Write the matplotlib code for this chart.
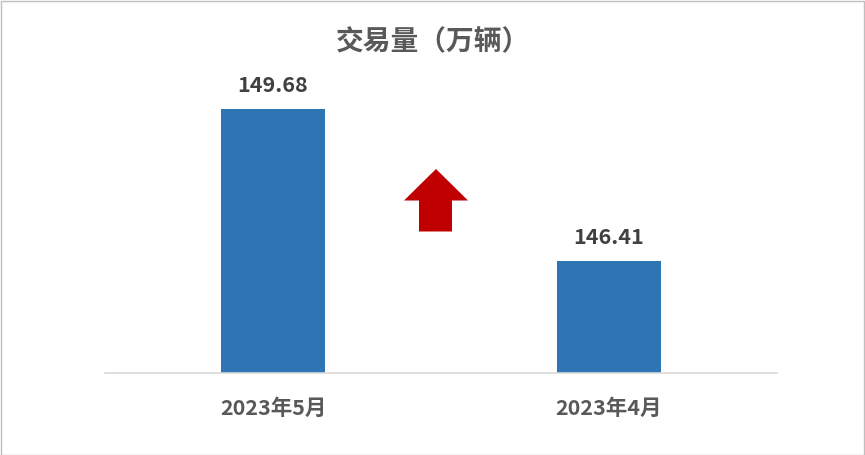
import numpy as np
import matplotlib
matplotlib.use("Agg")
import matplotlib.pyplot as plt
from matplotlib.patches import Polygon, Rectangle

plt.rcParams['font.family'] = ['Noto Sans CJK SC', 'DejaVu Sans']

categories = ["2023年5月", "2023年4月"]
values = [149.68, 146.41]
title = "交易量（万辆）"

W, H = 865, 455
fig = plt.figure(figsize=(W / 100, H / 100), dpi=100)

# 描画範囲 (pixel -> figure fraction)
left, right, bottom, top = 105, 777, 373, 94
ax = fig.add_axes([left / W, 1 - bottom / H, (right - left) / W, (bottom - top) / H])

x = np.arange(len(categories))
bars = ax.bar(x, values, width=0.31, color="#2E75B6", zorder=2)
ax.set_xlim(-0.5, 1.5)
ax.set_ylim(144, 150)

for b, v in zip(bars, values):
    ax.annotate(f"{v:.2f}", (b.get_x() + b.get_width() / 2, v),
                xytext=(0, 9), textcoords="offset points",
                ha="center", va="bottom", fontsize=15.5, fontweight="bold",
                color="#404040")

ax.set_xticks(x)
ax.set_xticklabels(categories, fontsize=15.5, fontweight="bold", color="#595959")
ax.tick_params(axis="x", length=0, pad=18)
ax.set_yticks([])
for s in ["top", "right", "left"]:
    ax.spines[s].set_visible(False)
ax.spines["bottom"].set_color("#D9D9D9")
ax.spines["bottom"].set_linewidth(1.2)

fig.text(0.5, 1 - 42 / H, title, ha="center", va="center",
         fontsize=20, fontweight="bold", color="#595959")

# 上向き矢印
pts = [(404, 200.5), (436, 169), (468, 200.5), (452, 200.5),
       (452, 231.5), (419, 231.5), (419, 200.5)]
arrow = Polygon([(px / W, 1 - py / H) for px, py in pts], closed=True,
                transform=fig.transFigure, facecolor="#C00000", edgecolor="none")
fig.patches.append(arrow)

# 枠線
fig.patches.append(Rectangle((0.5 / W, 0.5 / H), 1 - 1.5 / W, 1 - 1.5 / H,
                             transform=fig.transFigure, fill=False,
                             edgecolor="#BFBFBF", linewidth=1))

fig.savefig("out.png", dpi=100)
